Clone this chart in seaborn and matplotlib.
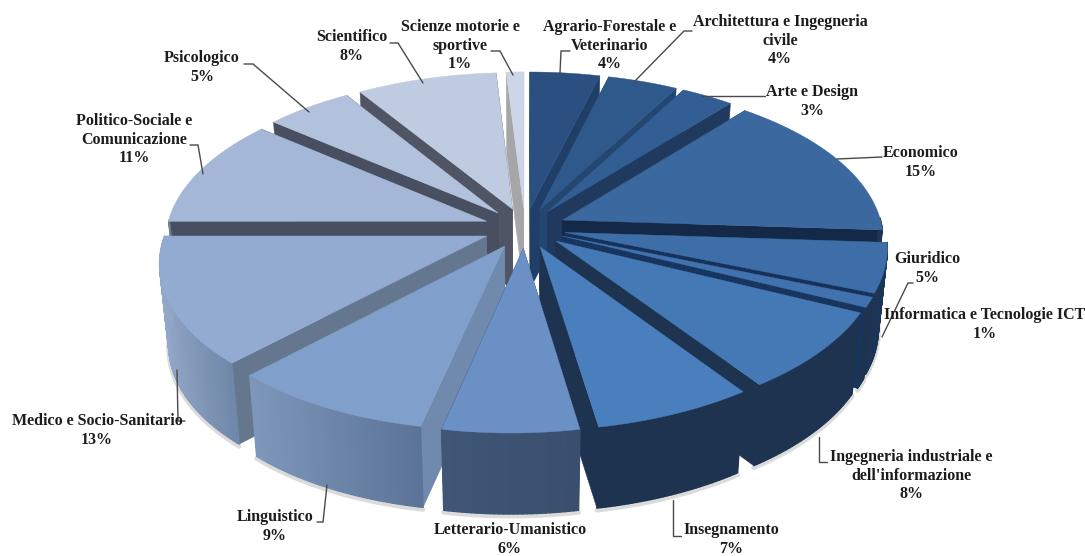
import numpy as np
import seaborn as sns
import matplotlib
matplotlib.use("Agg")
import matplotlib.pyplot as plt
from matplotlib.collections import PolyCollection
from matplotlib.patches import Polygon
from matplotlib.colors import to_rgb

# Share of graduates per discipline group (percent), clockwise from 12 o'clock
categories = [
    "Agrario-Forestale e\nVeterinario", "Architettura e Ingegneria\ncivile", "Arte e Design",
    "Economico", "Giuridico", "Informatica e Tecnologie ICT",
    "Ingegneria industriale e\ndell'informazione", "Insegnamento", "Letterario-Umanistico",
    "Linguistico", "Medico e Socio-Sanitario", "Politico-Sociale e\nComunicazione",
    "Psicologico", "Scientifico", "Scienze motorie e\nsportive",
]
values = [4, 4, 3, 15, 5, 1, 8, 7, 6, 9, 13, 11, 5, 8, 1]

top_colors = ["#2a4f80", "#2f588b", "#335e93", "#3a689f", "#3e6ea8", "#4172ae", "#4479b6", "#4a7fbe",
              "#6a90c5", "#809fca", "#93abd1", "#a5b7d7", "#b2c1dc", "#bfcbe1", "#ccd6e8"]
wall_colors = ["#1f3f68", "#234770", "#20395f", "#142948", "#16325a", "#17355e", "#1e3350", "#1e3350",
               "#1e3350", "#6f8aad", "#64778f", "#474f60", "#484f60", "#4f5565", "#a6a6a8"]
arc_left = ["#1f3f68", "#1f3f68", "#20395f", "#1c3557", "#1c3557", "#1e3350", "#1e3350", "#1e3350",
            "#3f5677", "#7f97bb", "#93a7c8", "#6d7c96", "#6d7c96", "#6d7c96", "#6d7c96"]
arc_right = ["#1f3f68", "#1f3f68", "#20395f", "#1c3557", "#1c3557", "#1e3350", "#1e3350", "#1e3350",
             "#3a4f6e", "#5b7396", "#6f87a8", "#6d7c96", "#6d7c96", "#6d7c96", "#6d7c96"]

# Placement of each label: centre x, first line y, and the leader polyline
label_x = [610, 780, 812, 921, 927, 985, 911, 731, 510, 275, 97, 134, 202, 352, 460]
label_y = [27, 22, 92, 153, 259, 315, 457, 530, 530, 517, 421, 121, 58, 37, 27]
leaders = [
    [(570, 51), (561, 51), (560, 73)],
    [(692, 31), (684, 31), (634, 82)],
    [(765, 96), (702, 96)],
    [(882, 157), (837, 159)],
    [],
    [(913, 283), (908, 283), (882, 337)],
    [(827, 462), (819, 462), (819, 437)],
    [(681, 536), (673, 536), (673, 500)],
    [],
    [(317, 522), (323, 522), (327, 485)],
    [(185, 421), (178, 421), (177, 370)],
    [(190, 145), (198, 145), (203, 174)],
    [(244, 64), (253, 64), (309, 112)],
    [(390, 43), (398, 43), (423, 83)],
    [(491, 51), (500, 51), (513, 75)],
]

sns.set_theme(style="white")
plt.rcParams["font.family"] = ["Liberation Serif", "DejaVu Serif"]

fig = plt.figure(figsize=(10.85, 5.56), dpi=100)
ax = fig.add_axes([0, 0, 1, 1])
ax.set_xlim(0, 1085)
ax.set_ylim(556, 0)
ax.axis("off")

# Perspective disc model, in canvas pixels
CX, CY = 525.0, 228.0
R, EXPLODE = 320.0, 41.0
FLAT, PERSP = 0.491, 0.12
SHEAR = 0.04
THICK, SHRINK = 81.0, 0.975


def project(u, v, bottom=False):
    f = 1.0 / (1.0 - PERSP * v / R)
    x = CX + u * f - SHEAR * max(v, 0.0)
    y = CY + FLAT * v * f
    if bottom:
        x = CX + (x - CX) * SHRINK
        y = y + THICK
    return x, y


shares = np.asarray(values, dtype=float) / np.sum(values)
edges = np.concatenate([[0.0], np.cumsum(shares)]) * 2 * np.pi
mids = (edges[:-1] + edges[1:]) / 2


def blend(c1, c2, t):
    a, b = np.array(to_rgb(c1)), np.array(to_rgb(c2))
    return tuple(a + (b - a) * t)


def draw_slice(i):
    t0, t1, m = edges[i], edges[i + 1], mids[i]
    z = 10 + order[i]
    du, dv = EXPLODE * np.sin(m), -EXPLODE * np.cos(m)
    th = np.linspace(t0, t1, max(8, int(values[i] * 5)))
    us = du + R * np.sin(th)
    vs = dv - R * np.cos(th)
    tip_t = project(du, dv)
    tip_b = project(du, dv, bottom=True)
    rim_t = [project(u, v) for u, v in zip(us, vs)]
    rim_b = [project(u, v, bottom=True) for u, v in zip(us, vs)]

    # radial faces go first, the rim and the top are painted over them
    for rt, rb in ((rim_t[0], rim_b[0]), (rim_t[-1], rim_b[-1])):
        ax.add_patch(Polygon([tip_t, rt, rb, tip_b], closed=True, facecolor=wall_colors[i],
                             edgecolor=wall_colors[i], lw=0.3, zorder=z))

    # only the part of the rim that faces the viewer is visible
    front = np.cos(th) < 0.02
    if front.sum() >= 2:
        idx = np.flatnonzero(front)
        xs = [rim_t[k][0] for k in idx]
        lo, hi = min(xs), max(xs)
        quads, cols = [], []
        for j, k in zip(idx[:-1], idx[1:]):
            quads.append([rim_t[j], rim_t[k], rim_b[k], rim_b[j]])
            cols.append(blend(arc_left[i], arc_right[i], (rim_t[j][0] - lo) / max(hi - lo, 1e-6)))
        ax.add_collection(PolyCollection(quads, facecolors=cols, edgecolors=cols, linewidths=1.0,
                                         zorder=z))
        # faint contact shadow under the rim
        sx = [rim_b[k][0] for k in idx]
        sy = [rim_b[k][1] + 2 for k in idx]
        ax.plot(sx, sy, color="#808080", alpha=0.28, lw=3.5, zorder=5, solid_capstyle="round")
    ax.add_patch(Polygon([tip_t] + rim_t, closed=True, facecolor=top_colors[i],
                         edgecolor=top_colors[i], lw=0.3, zorder=z))


# Back-to-front painting order, by how far forward each slice sits
depth = -np.cos(mids)
order = np.argsort(np.argsort(depth))
for idx_slice in range(len(values)):
    draw_slice(idx_slice)

LINE_H = 18.7
for name, val, lx, ly, pts in zip(categories, values, label_x, label_y, leaders):
    lines = name.split("\n") + [f"{val}%"]
    for n, line in enumerate(lines):
        ax.text(lx, ly + n * LINE_H, line, ha="center", va="center", fontsize=11.5,
                fontweight="bold", color="#1c1c1c", zorder=40)
    if pts:
        ax.plot(*zip(*pts), color="#4a4a4a", lw=1.0, zorder=30, solid_joinstyle="miter")

fig.savefig("out.png", dpi=100)
